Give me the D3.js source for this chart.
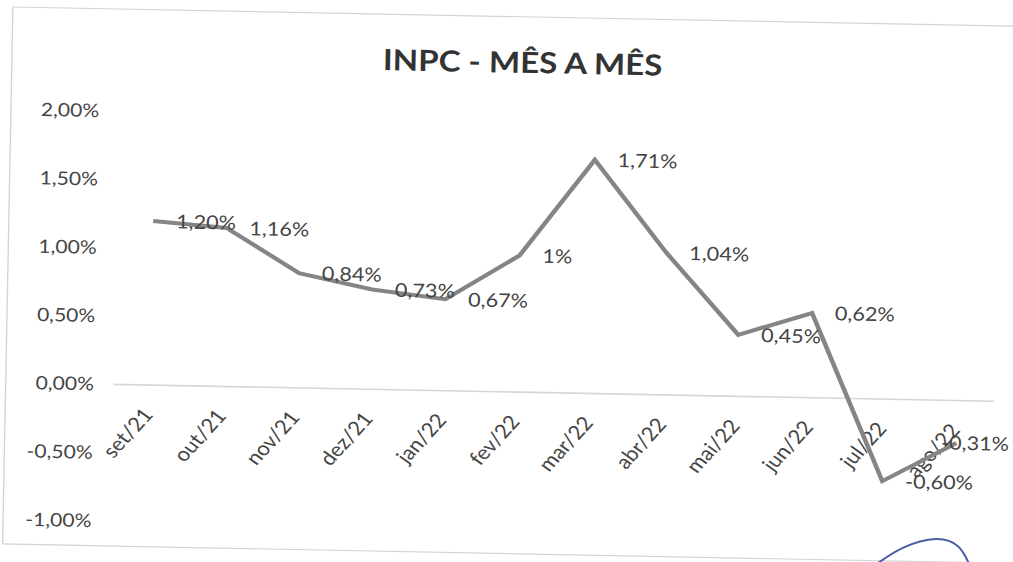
<!DOCTYPE html>
<html>
<head>
<meta charset="utf-8">
<script src="https://cdn.jsdelivr.net/npm/d3@7/dist/d3.min.js"></script>
<style>
    body { margin: 0; background: #fff; }
    text { font-family: Lato, "Open Sans", sans-serif; }
</style>
</head>
<body>
<div id="chart"></div>
<script>
// data
const months = ["set/21", "out/21", "nov/21", "dez/21", "jan/22", "fev/22",
                "mar/22", "abr/22", "mai/22", "jun/22", "jul/22", "ago/22"];
const inpc = [1.20, 1.16, 0.84, 0.73, 0.67, 1.00, 1.71, 1.04, 0.45, 0.62, -0.60, -0.31];
const valueLabels = ["1,20%", "1,16%", "0,84%", "0,73%", "0,67%", "1%",
                     "1,71%", "1,04%", "0,45%", "0,62%", "-0,60%", "-0,31%"];
const yTicks = [-1, -0.5, 0, 0.5, 1, 1.5, 2];
const yTickLabels = ["-1,00%", "-0,50%", "0,00%", "0,50%", "1,00%", "1,50%", "2,00%"];
const title = "INPC - MÊS A MÊS";

// blue pen mark in the corner of the scan
const penStroke = [[874, 566], [902, 546], [938, 536], [960, 544], [970, 566]];

const W = 1013, H = 562;
const SX = 1.14;      // the scan is stretched horizontally
const TILT = 1.1;     // and slightly rotated
const LABEL_RIGHT = 886;   // data labels are pushed back inside the chart area

const svg = d3.select("#chart").append("svg")
    .attr("width", W)
    .attr("height", H);

const g = svg.append("g")
    .attr("transform", `rotate(${TILT}, 113, 384) scale(${SX}, 1)`);

const x = d3.scalePoint()
    .domain(months)
    .range([99.5, 872])
    .padding(0.5);

const y = d3.scaleLinear()
    .domain([-1, 2])
    .range([521, 111]);

// chart frame (right side runs off the scan)
g.append("rect")
    .attr("x", 5)
    .attr("y", 9)
    .attr("width", 940)
    .attr("height", 537)
    .attr("fill", "none")
    .attr("stroke", "#d4d4d4")
    .attr("stroke-width", 1.2);

// title
g.append("text")
    .attr("x", 453)
    .attr("y", 65)
    .attr("text-anchor", "middle")
    .attr("font-size", 29)
    .attr("font-weight", 700)
    .attr("fill", "#333")
    .text(title);

// y axis labels (no axis line)
const yAxis = g.append("g")
    .attr("transform", "translate(99.5, 0)")
    .call(d3.axisLeft(y)
        .tickValues(yTicks)
        .tickSize(0)
        .tickPadding(17)
        .tickFormat((d, i) => yTickLabels[i]));
yAxis.select(".domain").remove();
yAxis.selectAll("text")
    .attr("font-size", 18.5)
    .attr("fill", "#454545")
    .style("font-family", "Lato, 'Open Sans', sans-serif");

// zero line
g.append("line")
    .attr("x1", x.range()[0])
    .attr("x2", x.range()[1])
    .attr("y1", y(0))
    .attr("y2", y(0))
    .attr("stroke", "#d6d6d6")
    .attr("stroke-width", 1.6);

// category labels next to the zero line
g.append("g")
    .selectAll("text")
    .data(months)
    .join("text")
    .attr("transform", d => `translate(${x(d) + 4}, ${y(0) + 30}) rotate(-52)`)
    .attr("text-anchor", "end")
    .attr("font-size", 19.5)
    .attr("fill", "#454545")
    .text(d => d);

// line
const line = d3.line()
    .x((d, i) => x(months[i]))
    .y(d => y(d));

g.append("path")
    .datum(inpc)
    .attr("d", line)
    .attr("fill", "none")
    .attr("stroke", "#858585")
    .attr("stroke-width", 4)
    .attr("stroke-linejoin", "miter");

// data labels, to the right of each point
g.append("g")
    .selectAll("text")
    .data(inpc)
    .join("text")
    .attr("y", d => y(d))
    .attr("dy", "0.36em")
    .attr("font-size", 19)
    .attr("fill", "#454545")
    .text((d, i) => valueLabels[i])
    .attr("x", function(d, i) {
        const w = this.getComputedTextLength();
        return Math.min(x(months[i]) + 20, LABEL_RIGHT - w);
    });

// pen mark
svg.append("path")
    .datum(penStroke)
    .attr("d", d3.line().curve(d3.curveBasis))
    .attr("fill", "none")
    .attr("stroke", "#4b5ea6")
    .attr("stroke-width", 2);
</script>
</body>
</html>
